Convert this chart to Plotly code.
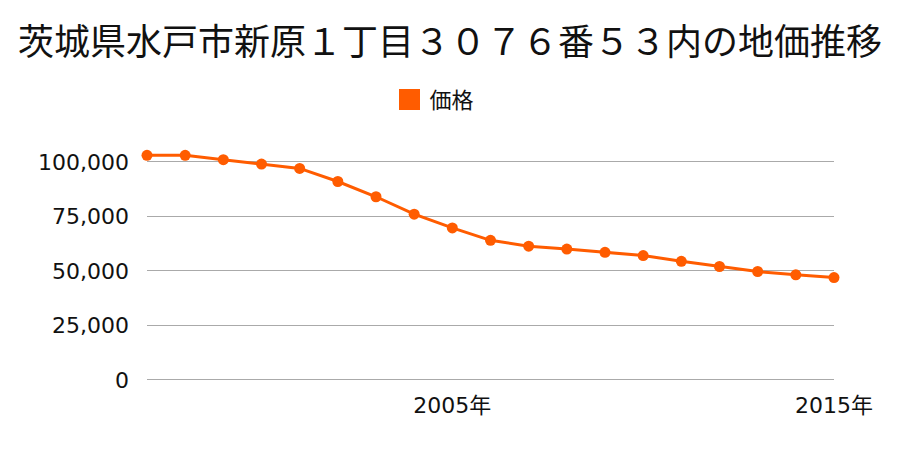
import plotly.graph_objects as go

years = list(range(1997, 2016))
prices = [103000, 103000, 101000, 99000, 97000, 91000, 84000, 76000, 69700, 64000,
          61300, 60000, 58500, 57000, 54400, 52000, 49700, 48200, 46900]
series_name = "価格"
title_text = "茨城県水戸市新原１丁目３０７６番５３内の地価推移"
x_tick_vals = [2005, 2015]
x_tick_text = ["2005年", "2015年"]
y_tick_vals = [0, 25000, 50000, 75000, 100000]
y_tick_text = ["0", "25,000", "50,000", "75,000", "100,000"]

color = "#ff5c00"
cjk = "Noto Sans CJK JP"
num_font = "DejaVu Sans, Noto Sans CJK JP"

fig = go.Figure()
fig.add_trace(go.Scatter(
    x=years, y=prices, mode="lines+markers",
    line=dict(color=color, width=3),
    marker=dict(color=color, size=11),
    cliponaxis=False, showlegend=False, name=series_name,
))
fig.add_trace(go.Scatter(
    x=[None], y=[None], mode="markers", name=series_name,
    marker=dict(color=color, symbol="square", size=20,
                line=dict(color=color, width=6)),
    showlegend=True,
))
fig.update_layout(
    width=900, height=450,
    paper_bgcolor="white", plot_bgcolor="white",
    margin=dict(l=147, r=66, t=151, b=68),
    font=dict(family=cjk, color="#111", size=20),
    title=dict(text=title_text, x=0.5, xanchor="center", y=0.905, yanchor="middle",
               font=dict(size=36, family=cjk, color="#111")),
    legend=dict(orientation="h", x=0.353, xanchor="left", y=1.222, yanchor="middle",
                font=dict(size=22, family=cjk, color="#111")),
    xaxis=dict(range=[1997, 2015], tickvals=x_tick_vals, ticktext=x_tick_text,
               showgrid=False, zeroline=False, showline=False, ticks="",
               ticklabelstandoff=8,
               tickfont=dict(size=22, family=num_font)),
    yaxis=dict(range=[-1000, 105000], tickvals=y_tick_vals, ticktext=y_tick_text,
               showgrid=True, gridcolor="#aaaaaa", gridwidth=1, zeroline=False,
               showline=False, ticks="", ticklabelstandoff=17,
               tickfont=dict(size=22, family=num_font)),
)
fig.write_html("out.html")
